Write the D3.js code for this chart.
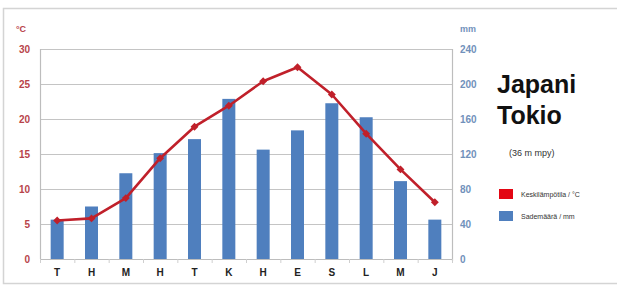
<!DOCTYPE html>
<html>
<head>
<meta charset="utf-8">
<script src="https://cdn.jsdelivr.net/npm/d3@7"></script>
<style>
  body { margin: 0; background: #fff; }
  svg { display: block; font-family: "Liberation Sans", Arial, sans-serif; }
</style>
</head>
<body>
<div id="chart"></div>
<script>
// Monthly climate data for Tokyo
const months = ['T', 'H', 'M', 'H', 'T', 'K', 'H', 'E', 'S', 'L', 'M', 'J'];
const temperature = [5.5, 5.8, 8.7, 14.4, 18.9, 21.9, 25.4, 27.4, 23.5, 17.9, 12.8, 8.1];
const precipitation = [45, 60, 98, 121, 137, 183, 125, 147, 178, 162, 89, 45];
const tempTicks = [0, 5, 10, 15, 20, 25, 30];
const rainTicks = [0, 40, 80, 120, 160, 200, 240];

const W = 617, H = 293;
const plot = { left: 40, right: 452, top: 49, bottom: 259 };

const svg = d3.select('#chart').append('svg')
  .attr('width', W)
  .attr('height', H);

// outer frame
svg.append('rect')
  .attr('x', 3.5).attr('y', 8.5)
  .attr('width', 630).attr('height', 275)
  .attr('fill', 'none')
  .attr('stroke', '#d4d4d4')
  .attr('stroke-width', 1.5);

// scales
const x = d3.scaleBand()
  .domain(d3.range(months.length))
  .range([plot.left, plot.right]);

const yTemp = d3.scaleLinear().domain([0, 30]).range([plot.bottom, plot.top]);
const yRain = d3.scaleLinear().domain([0, 240]).range([plot.bottom, plot.top]);

// gridlines
svg.append('g')
  .selectAll('line')
  .data(tempTicks.slice(1))
  .enter()
  .append('line')
  .attr('x1', plot.left).attr('x2', plot.right)
  .attr('y1', d => Math.round(yTemp(d)) + 0.5)
  .attr('y2', d => Math.round(yTemp(d)) + 0.5)
  .attr('stroke', '#c4c4c4')
  .attr('stroke-width', 1.2);

// left & right axis lines
svg.append('line')
  .attr('x1', plot.left + 0.5).attr('x2', plot.left + 0.5)
  .attr('y1', plot.top).attr('y2', plot.bottom)
  .attr('stroke', '#bdbdbd').attr('stroke-width', 1.2);
svg.append('line')
  .attr('x1', plot.right + 0.5).attr('x2', plot.right + 0.5)
  .attr('y1', plot.top).attr('y2', plot.bottom + 2)
  .attr('stroke', '#bdbdbd').attr('stroke-width', 1.2);

// bars
const barW = 13;
svg.append('g')
  .selectAll('rect')
  .data(precipitation)
  .enter()
  .append('rect')
  .attr('x', (d, i) => x(i) + x.bandwidth() / 2 - barW / 2)
  .attr('y', d => yRain(d))
  .attr('width', barW)
  .attr('height', d => plot.bottom - yRain(d))
  .attr('fill', '#4f7fbe');

// bottom axis
const xAxis = svg.append('g')
  .attr('transform', `translate(0, ${plot.bottom})`);
xAxis.append('line')
  .attr('x1', plot.left).attr('x2', plot.right)
  .attr('y1', 0.5).attr('y2', 0.5)
  .attr('stroke', '#bdbdbd').attr('stroke-width', 1.2);
xAxis.selectAll('line.tick')
  .data(d3.range(months.length + 1))
  .enter()
  .append('line')
  .attr('class', 'tick')
  .attr('x1', i => (i < months.length ? x(i) : plot.right) + 0.5)
  .attr('x2', i => (i < months.length ? x(i) : plot.right) + 0.5)
  .attr('y1', 0).attr('y2', 4)
  .attr('stroke', '#cfcfcf');
xAxis.selectAll('text')
  .data(months)
  .enter()
  .append('text')
  .attr('x', (d, i) => x(i) + x.bandwidth() / 2)
  .attr('y', 17)
  .attr('text-anchor', 'middle')
  .style('font-size', '10px')
  .style('font-weight', 'bold')
  .style('fill', '#222')
  .text(d => d);

// temperature line
const line = d3.line()
  .x((d, i) => x(i) + x.bandwidth() / 2)
  .y(d => yTemp(d));

svg.append('path')
  .datum(temperature)
  .attr('d', line)
  .attr('fill', 'none')
  .attr('stroke', '#c0202a')
  .attr('stroke-width', 2.6)
  .attr('stroke-linejoin', 'round');

svg.append('g')
  .selectAll('path')
  .data(temperature)
  .enter()
  .append('path')
  .attr('d', d3.symbol(d3.symbolDiamond2, 40))
  .attr('transform', (d, i) => `translate(${x(i) + x.bandwidth() / 2}, ${yTemp(d)})`)
  .attr('fill', '#c0202a');

// left tick labels
svg.append('g')
  .selectAll('text')
  .data(tempTicks)
  .enter()
  .append('text')
  .attr('x', 30)
  .attr('y', d => yTemp(d) + 4)
  .attr('text-anchor', 'end')
  .style('font-size', '10px')
  .style('font-weight', 'bold')
  .style('fill', '#b8444a')
  .text(d => d);

svg.append('text')
  .attr('x', 16).attr('y', 32)
  .style('font-size', '9px')
  .style('font-weight', 'bold')
  .style('fill', '#b8444a')
  .text('°C');

// right tick labels
svg.append('g')
  .selectAll('text')
  .data(rainTicks)
  .enter()
  .append('text')
  .attr('x', 460)
  .attr('y', d => yRain(d) + 4)
  .style('font-size', '10px')
  .style('font-weight', 'bold')
  .style('fill', '#7191bb')
  .text(d => d);

svg.append('text')
  .attr('x', 460).attr('y', 32)
  .style('font-size', '9px')
  .style('font-weight', 'bold')
  .style('fill', '#7191bb')
  .text('mm');

// title
svg.append('text')
  .attr('x', 497).attr('y', 93)
  .style('font-size', '25px')
  .style('font-weight', 'bold')
  .style('fill', '#111')
  .text('Japani');
svg.append('text')
  .attr('x', 497).attr('y', 124)
  .style('font-size', '25px')
  .style('font-weight', 'bold')
  .style('fill', '#111')
  .text('Tokio');
svg.append('text')
  .attr('x', 509).attr('y', 156)
  .style('font-size', '9px')
  .style('fill', '#333')
  .text('(36 m mpy)');

// legend
const legend = [
  { label: 'Keskilämpötila / °C', color: '#e30613' },
  { label: 'Sademäärä / mm', color: '#4f7fbe' }
];
const lg = svg.append('g')
  .selectAll('g')
  .data(legend)
  .enter()
  .append('g')
  .attr('transform', (d, i) => `translate(499, ${189 + i * 22})`);
lg.append('rect')
  .attr('width', 14).attr('height', 10)
  .attr('fill', d => d.color);
lg.append('text')
  .attr('x', 22).attr('y', 8)
  .style('font-size', '7px')
  .style('fill', '#333')
  .text(d => d.label);
</script>
</body>
</html>
